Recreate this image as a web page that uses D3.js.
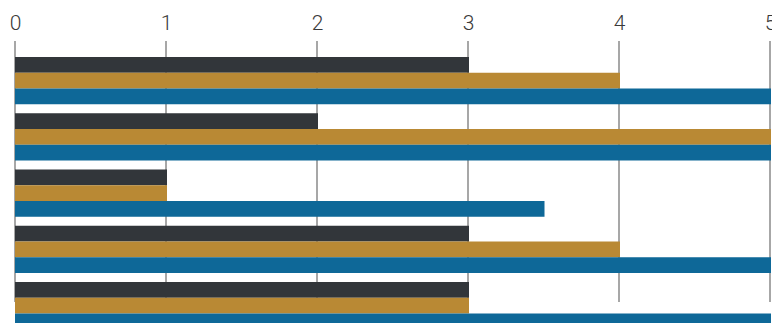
<!DOCTYPE html>
<html>
<head>
<meta charset="utf-8">
<script src="https://cdn.jsdelivr.net/npm/d3@7"></script>
<style>
  body { margin: 0; background: #fff; }
  svg { display: block; }
  .x-axis text { font-family: Roboto, sans-serif; font-weight: 300; font-size: 21px; fill: #3a3a3a; }
</style>
</head>
<body>
<svg id="chart" width="772" height="323"></svg>
<script>
// data
var groups = ["G1", "G2", "G3", "G4", "G5"];
var series = ["s1", "s2", "s3"];
var s1 = [3, 2, 1, 3, 3];
var s2 = [4, 5, 1, 4, 3];
var s3 = [5, 5, 3.5, 5, 5];
var ticks = [0, 1, 2, 3, 4, 5];
var colors = ["#32363a", "#b98934", "#0e6898"];

var svg = d3.select("#chart");

var x = d3.scaleLinear()
  .domain([0, 5])
  .range([15, 770]);

var y = d3.scaleBand()
  .domain(groups)
  .range([57, 329.25])
  .paddingInner(0.16)
  .paddingOuter(0);

var ySub = d3.scaleBand()
  .domain(series)
  .range([0, y.bandwidth()]);

var z = d3.scaleOrdinal()
  .domain(series)
  .range(colors);

var rows = groups.map(function (g, i) {
  return { group: g, values: [s1[i], s2[i], s3[i]] };
});

// gridlines
svg.append("g")
  .attr("class", "grid")
  .selectAll("line")
  .data(ticks)
  .enter().append("line")
  .attr("x1", d => x(d))
  .attr("x2", d => x(d))
  .attr("y1", 41)
  .attr("y2", 302)
  .attr("stroke", "#8a8a8a")
  .attr("stroke-width", 1.5);

// tick labels
var xAxis = svg.append("g")
  .attr("class", "x-axis")
  .attr("transform", "translate(0,30)")
  .call(d3.axisTop(x).tickValues(ticks).tickSize(0).tickPadding(0).tickFormat(d3.format("d")));
xAxis.select(".domain").remove();
xAxis.selectAll("text").attr("dy", 0);

// bars
var group = svg.selectAll("g.layer")
  .data(rows)
  .enter().append("g")
  .attr("class", "layer")
  .attr("transform", d => `translate(0,${y(d.group)})`);

group.selectAll("rect")
  .data(d => d.values.map((v, i) => ({ key: series[i], value: v })))
  .enter().append("rect")
  .attr("x", x(0))
  .attr("y", d => ySub(d.key))
  .attr("width", d => x(d.value) - x(0) + 1)
  .attr("height", ySub.bandwidth())
  .attr("fill", d => z(d.key));
</script>
</body>
</html>
